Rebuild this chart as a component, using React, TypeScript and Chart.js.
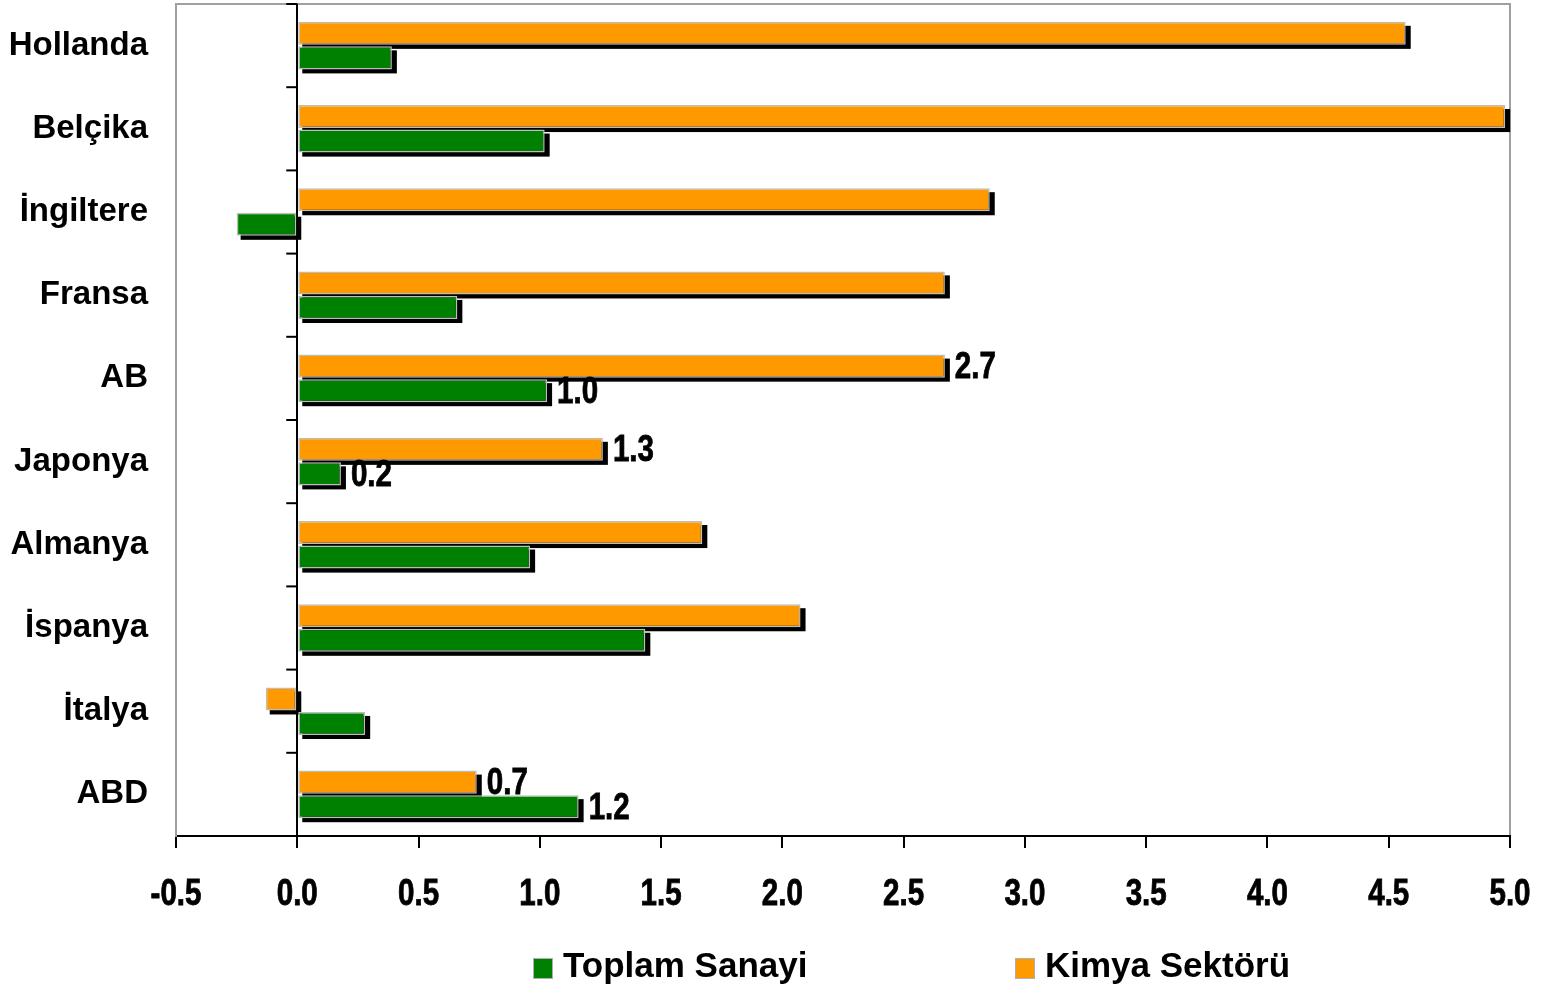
import React, { useEffect, useRef } from 'react';
import { Chart, registerables } from 'chart.js';

Chart.register(...registerables);

const categories = ['Hollanda', 'Belçika', 'İngiltere', 'Fransa', 'AB', 'Japonya', 'Almanya', 'İspanya', 'İtalya', 'ABD'];
const toplamSanayi = [0.39, 1.02, -0.25, 0.66, 1.03, 0.18, 0.96, 1.435, 0.28, 1.16];
const kimyaSektoru = [4.57, 4.98, 2.855, 2.67, 2.67, 1.26, 1.67, 2.075, -0.13, 0.74];
const toplamLabels: (string | null)[] = [null, null, null, null, '1.0', '0.2', null, null, null, '1.2'];
const kimyaLabels: (string | null)[] = [null, null, null, null, '2.7', '1.3', null, null, null, '0.7'];
const xMin = -0.5;
const xMax = 5.0;
const xStep = 0.5;
const legendNames = ['Toplam Sanayi', 'Kimya Sektörü'];

const GREEN = '#008000';
const ORANGE = '#FF9900';
const SANS = "'Liberation Sans', Arial, sans-serif";
const NARROW_SCALE = 0.82;

function drawNarrow(ctx: CanvasRenderingContext2D, text: string, x: number, y: number) {
  ctx.save();
  ctx.translate(x, y);
  ctx.scale(NARROW_SCALE, 1);
  ctx.fillText(text, 0, 0);
  ctx.lineWidth = 0.8;
  ctx.strokeStyle = '#000';
  ctx.strokeText(text, 0, 0);
  ctx.restore();
}

const framePlugin = {
  id: 'frame',
  beforeDraw(chart: any) {
    const { ctx, chartArea: a } = chart;
    ctx.save();
    ctx.strokeStyle = '#a0a0a0';
    ctx.lineWidth = 2;
    ctx.strokeRect(a.left, a.top, a.right - a.left, a.bottom - a.top);
    ctx.restore();
  },
  beforeDatasetsDraw(chart: any) {
    const { ctx, chartArea: a } = chart;
    const xs = chart.scales.x;
    const x0 = xs.getPixelForValue(0);
    ctx.save();
    ctx.strokeStyle = '#000';
    ctx.lineWidth = 2;
    const n = categories.length;
    for (let i = 0; i <= n; i++) {
      const y = a.top + (i * (a.bottom - a.top)) / n;
      ctx.beginPath();
      ctx.moveTo(x0 - 11, y);
      ctx.lineTo(x0, y);
      ctx.stroke();
    }
    ctx.fillStyle = '#000';
    chart.data.datasets.forEach((_d: any, di: number) => {
      const meta = chart.getDatasetMeta(di);
      meta.data.forEach((bar: any) => {
        const p = bar.getProps(['x', 'y', 'base', 'height'], true);
        const left = Math.min(p.x, p.base);
        const right = Math.max(p.x, p.base);
        const top = p.y - p.height / 2;
        ctx.fillRect(left + 4, top + 4, right - left + 1, p.height);
      });
    });
    ctx.restore();
  },
  afterDatasetsDraw(chart: any) {
    const { ctx } = chart;
    const labelSets = [kimyaLabels, toplamLabels];
    ctx.save();
    ctx.fillStyle = '#000';
    ctx.font = `bold 36px ${SANS}`;
    ctx.textAlign = 'left';
    ctx.textBaseline = 'middle';
    labelSets.forEach((labels, di) => {
      const meta = chart.getDatasetMeta(di);
      meta.data.forEach((bar: any, i: number) => {
        const t = labels[i];
        if (!t) return;
        const p = bar.getProps(['x', 'y', 'base'], true);
        drawNarrow(ctx, t, Math.max(p.x, p.base) + 10, p.y + 2);
      });
    });
    ctx.restore();
  },
  afterDraw(chart: any) {
    const { ctx } = chart;
    const xs = chart.scales.x;
    ctx.save();
    ctx.fillStyle = '#000';
    ctx.font = `bold 36px ${SANS}`;
    ctx.textAlign = 'center';
    ctx.textBaseline = 'alphabetic';
    xs.ticks.forEach((t: any) => {
      const x = xs.getPixelForValue(t.value);
      drawNarrow(ctx, Number(t.value).toFixed(1), x, xs.bottom - 31);
    });
    ctx.restore();

    const items = [
      { name: legendNames[0], color: GREEN, x: 533 },
      { name: legendNames[1], color: ORANGE, x: 1015 },
    ];
    ctx.save();
    ctx.font = `bold 35px ${SANS}`;
    ctx.textAlign = 'left';
    ctx.textBaseline = 'alphabetic';
    items.forEach((it) => {
      ctx.fillStyle = it.color;
      ctx.fillRect(it.x, 958, 19, 20);
      ctx.strokeStyle = '#b0b0b0';
      ctx.lineWidth = 1;
      ctx.strokeRect(it.x + 0.5, 958.5, 19, 20);
      ctx.fillStyle = '#000';
      ctx.fillText(it.name, it.x + 30, 977);
    });
    ctx.restore();
  },
};

export default function App() {
  const ref = useRef<HTMLCanvasElement | null>(null);
  useEffect(() => {
    if (!ref.current) return;
    const chart = new Chart(ref.current, {
      type: 'bar',
      data: {
        labels: categories,
        datasets: [
          {
            label: legendNames[1],
            data: kimyaSektoru,
            backgroundColor: ORANGE,
            borderColor: '#bdbdbd',
            borderWidth: 1.5,
            borderSkipped: false,
            categoryPercentage: 0.59,
            barPercentage: 0.94,
          },
          {
            label: legendNames[0],
            data: toplamSanayi,
            backgroundColor: GREEN,
            borderColor: '#bdbdbd',
            borderWidth: 1.5,
            borderSkipped: false,
            categoryPercentage: 0.59,
            barPercentage: 0.94,
          },
        ],
      },
      options: {
        indexAxis: 'y',
        responsive: false,
        animation: false,
        layout: { padding: { left: 0, top: 4, right: 31, bottom: 54 } },
        plugins: {
          legend: { display: false },
          tooltip: { enabled: false },
        },
        scales: {
          x: {
            type: 'linear',
            min: xMin,
            max: xMax,
            ticks: {
              display: false,
              stepSize: xStep,
              autoSkip: false,
            },
            grid: {
              display: true,
              drawOnChartArea: true,
              drawTicks: true,
              tickLength: 12,
              lineWidth: 2,
              color: (c: any) => (c.tick && Math.abs(c.tick.value) < 1e-9 ? '#000' : 'rgba(0,0,0,0)'),
              tickColor: '#000',
            },
            border: { display: true, color: '#000', width: 2 },
            afterFit: (s: any) => {
              s.height = 100;
              s.paddingLeft = 0;
              s.paddingRight = 0;
              s.paddingTop = 0;
              s.paddingBottom = 0;
            },
          },
          y: {
            type: 'category',
            ticks: {
              color: '#000',
              padding: 28,
              font: { family: SANS, size: 33, weight: 'bold' },
              autoSkip: false,
            },
            grid: { display: false, drawTicks: false },
            border: { display: true, color: '#a0a0a0', width: 2 },
            afterFit: (s: any) => {
              s.width = 176;
              s.paddingLeft = 0;
              s.paddingRight = 0;
              s.paddingTop = 0;
              s.paddingBottom = 0;
            },
          },
        },
      },
      plugins: [framePlugin],
    } as any);
    return () => chart.destroy();
  }, []);

  return (
    <div style={{ position: 'fixed', left: 0, top: 0, width: 1541, height: 990, background: '#fff' }}>
      <canvas ref={ref} width={1541} height={990} style={{ display: 'block' }} />
    </div>
  );
}
